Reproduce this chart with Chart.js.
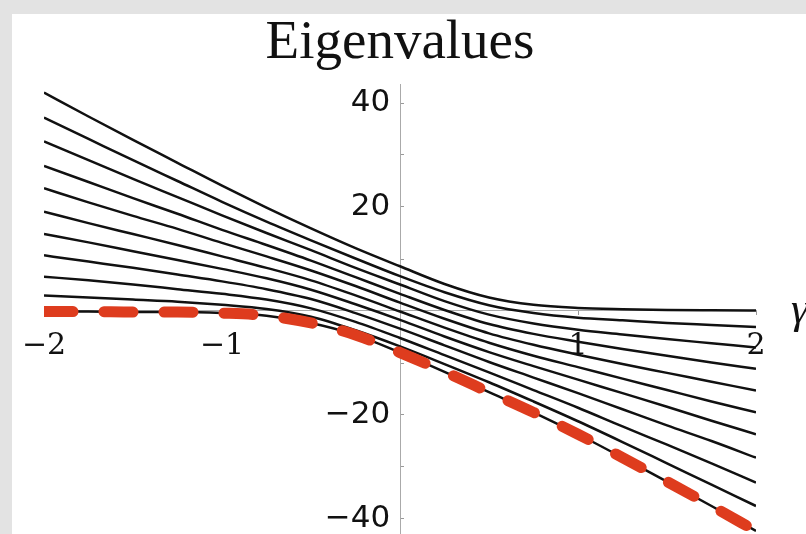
<!DOCTYPE html>
<html>
<head>
<meta charset="utf-8">
<script src="https://cdn.jsdelivr.net/npm/chart.js@4.4.0/dist/chart.umd.min.js"></script>
<style>
    html, body { margin: 0; padding: 0; width: 806px; height: 534px; overflow: hidden; background: #e3e3e3; }
    #panel { position: absolute; left: 12px; top: 14px; width: 794px; height: 560px; background: #fff; }
    #wrap { position: absolute; left: 0; top: 0; width: 806px; height: 560px; }
</style>
</head>
<body>
<div id="panel"></div>
<div id="wrap"><canvas id="eigChart"></canvas></div>
<script>
const gammas = [-2, -1.75, -1.5, -1.25, -1, -0.75, -0.5, -0.25, 0, 0.25, 0.5, 0.75, 1, 1.25, 1.5, 1.75, 2];

// black eigenvalue curves, top to bottom
const eig1  = [42.0, 37.4, 32.9, 28.5, 24.1, 19.9, 15.9, 12.1, 8.6, 5.2, 2.6, 1.2, 0.6, 0.35, 0.2, 0.14, 0.1];
const eig2  = [37.2, 33.1, 29.0, 25.0, 21.0, 17.2, 13.6, 10.1, 6.7, 3.6, 1.1, -0.4, -1.3, -1.8, -2.3, -2.7, -3.1];
const eig3  = [32.6, 29.0, 25.4, 21.9, 18.4, 15.0, 11.7, 8.3, 5.1, 1.9, -0.7, -2.4, -3.6, -4.5, -5.4, -6.2, -7.0];
const eig4  = [27.9, 24.8, 21.7, 18.7, 15.6, 12.7, 9.7, 6.5, 3.3, 0.2, -2.5, -4.4, -5.9, -7.3, -8.6, -9.9, -11.1];
const eig5  = [23.6, 20.9, 18.3, 15.8, 13.1, 10.5, 7.8, 4.8, 1.6, -1.5, -4.3, -6.5, -8.4, -10.2, -11.9, -13.6, -15.3];
const eig6  = [19.1, 16.9, 14.8, 12.7, 10.5, 8.3, 5.9, 3.0, -0.1, -3.2, -6.1, -8.6, -10.8, -13.0, -15.2, -17.4, -19.5];
const eig7  = [14.8, 13.2, 11.5, 9.8, 8.1, 6.3, 4.1, 1.3, -1.7, -4.9, -7.9, -10.6, -13.2, -15.8, -18.4, -21.1, -23.7];
const eig8  = [10.7, 9.5, 8.3, 7.0, 5.7, 4.2, 2.3, -0.4, -3.4, -6.6, -9.8, -12.8, -15.8, -18.9, -22.0, -25.0, -28.2];
const eig9  = [6.6, 5.9, 5.1, 4.2, 3.3, 2.2, 0.5, -2.1, -5.2, -8.5, -11.8, -15.2, -18.6, -22.2, -25.7, -29.3, -33.0];
const eig10 = [3.0, 2.6, 2.2, 1.8, 1.2, 0.4, -1.1, -3.7, -6.8, -10.2, -13.7, -17.4, -21.2, -25.2, -29.3, -33.4, -37.5];
const eig11 = [-0.1, -0.1, -0.2, -0.2, -0.4, -0.9, -2.3, -4.6, -8.0, -11.7, -15.6, -19.5, -23.7, -28.2, -32.8, -37.5, -42.3];

// red dashed curve drawn over the lowest one
const redDashed = [-0.1, -0.1, -0.2, -0.2, -0.4, -0.9, -2.3, -4.6, -8.0, -11.7, -15.6, -19.5, -23.7, -28.2, -32.8, -37.5, -42.3];

const xTicks = [-2, -1, 1, 2];
const yTicks = [-40, -30, -20, -10, 10, 20, 30, 40];
const yLabelled = [-40, -20, 20, 40];

const blackCurves = [eig1, eig2, eig3, eig4, eig5, eig6, eig7, eig8, eig9, eig10, eig11];

function toPoints(values) {
    return gammas.map((g, i) => ({ x: g, y: values[i] }));
}

function minusLabel(v) {
    return v < 0 ? '\u2212' + Math.abs(v) : String(v);
}

const datasets = [{
    label: 'red',
    data: toPoints(redDashed),
    borderColor: '#de3c1e',
    borderWidth: 11,
    borderDash: [29, 31],
    borderCapStyle: 'round',
    pointRadius: 0,
    cubicInterpolationMode: 'monotone',
    order: 0
}];
blackCurves.forEach((vals, i) => {
    datasets.push({
        label: 'eig' + (i + 1),
        data: toPoints(vals),
        borderColor: '#111',
        borderWidth: 2.5,
        pointRadius: 0,
        cubicInterpolationMode: 'monotone',
        order: 1
    });
});

// axis symbol at the right end of the horizontal axis
const gammaLabel = {
    id: 'gammaLabel',
    afterDraw(chart) {
        const ctx = chart.ctx;
        ctx.save();
        ctx.font = 'italic 44px "Liberation Serif"';
        ctx.fillStyle = '#111';
        ctx.textBaseline = 'alphabetic';
        ctx.fillText('γ', 791, 323);
        ctx.restore();
    }
};

new Chart(document.getElementById('eigChart'), {
    type: 'line',
    data: { datasets: datasets },
    options: {
        responsive: true,
        maintainAspectRatio: false,
        animation: false,
        layout: { padding: { left: 44, right: 50, top: 0, bottom: 22.8 } },
        plugins: {
            legend: { display: false },
            tooltip: { enabled: false },
            title: {
                display: true,
                text: 'Eigenvalues',
                color: '#111',
                font: { family: '"Liberation Serif"', size: 55, weight: 'normal', lineHeight: 1.2 },
                padding: { top: 11, bottom: 7.8 }
            }
        },
        scales: {
            x: {
                type: 'linear',
                min: -2,
                max: 2,
                position: { y: 0 },
                afterBuildTicks: (scale) => { scale.ticks = xTicks.map(v => ({ value: v })); },
                grid: { drawOnChartArea: false, drawTicks: true, tickLength: 4, color: '#999' },
                border: { display: true, color: '#aaa', width: 1 },
                ticks: {
                    color: '#111',
                    padding: 13,
                    maxRotation: 0,
                    font: { family: '"DejaVu Serif"', size: 30 },
                    callback: (v) => minusLabel(v)
                }
            },
            y: {
                type: 'linear',
                min: -43.5,
                max: 43.5,
                position: { x: 0 },
                afterBuildTicks: (scale) => { scale.ticks = yTicks.map(v => ({ value: v })); },
                grid: { drawOnChartArea: false, drawTicks: true, tickLength: -4, color: '#999' },
                border: { display: true, color: '#aaa', width: 1 },
                ticks: {
                    color: '#111',
                    font: { family: '"DejaVu Sans"', size: 31 },
                    // trailing space keeps the label clear of the axis line
                    callback: (v) => (yLabelled.includes(v) ? minusLabel(v) + ' ' : '')
                }
            }
        }
    },
    plugins: [gammaLabel]
});
</script>
</body>
</html>
